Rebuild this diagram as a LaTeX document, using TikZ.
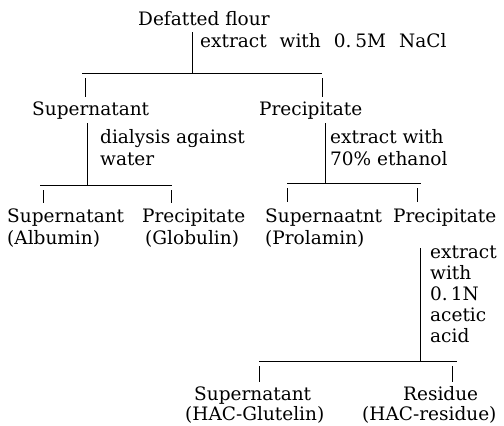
\documentclass[tikz,border=0pt]{standalone}
\usepackage{fontspec}
\setmainfont{DejaVu Serif}
\begin{document}
\begin{tikzpicture}[x=1pt,y=-1pt,
  font=\fontsize{18.5}{21}\selectfont,
  txt/.style={anchor=base west, inner sep=0pt},
  ln/.style={line width=0.8pt, black}]
\useasboundingbox (0,0) rectangle (504,426);
% texts
\node[txt] (df)   at (138,25)  {Defatted flour};
\node[txt] (s1)   at (200,47)  {extract\hspace{13pt}with\hspace{13pt}0.\hspace{4pt}5M\hspace{13pt}NaCl};
\node[txt] (sup1) at (32,115)  {Supernatant};
\node[txt] (pre1) at (259,115) {Precipitate};
\node[txt] (s2a)  at (100,143) {dialysis against};
\node[txt] (s2b)  at (100,165) {water};
\node[txt] (s3a)  at (330,143) {extract with};
\node[txt] (s3b)  at (330,165) {70\% ethanol};
\node[txt] (alb1) at (7,222)   {Supernatant};
\node[txt] (alb2) at (7,244)   {(Albumin)};
\node[txt] (glo1) at (142,222) {Precipitate};
\node[txt] (glo2) at (145,244) {(Globulin)};
\node[txt] (pro1) at (265,222) {Supernaatnt};
\node[txt] (pro2) at (265,244) {(Prolamin)};
\node[txt] (pre2) at (393,222) {Precipitate};
\node[txt] (s4a)  at (430,258) {extract};
\node[txt] (s4b)  at (430,279) {with};
\node[txt] (s4c)  at (430,300) {0.\,1N};
\node[txt] (s4d)  at (430,321) {acetic};
\node[txt] (s4e)  at (430,342) {acid};
\node[txt] (glu1) at (194,400) {Supernatant};
\node[txt] (glu2) at (185,420) {(HAC-Glutelin)};
\node[txt] (res1) at (403,400) {Residue};
\node[txt] (res2) at (362,420) {(HAC-residue)};
% junction coordinates
\coordinate (a0) at (192,32);  \coordinate (a1) at (192,73);
\coordinate (aL) at (82,73);   \coordinate (aR) at (322,73);
\coordinate (aLt) at (85,78);  \coordinate (aLb) at (85,97);
\coordinate (aRt) at (322,78); \coordinate (aRb) at (322,97);
\coordinate (b0) at (87,123);  \coordinate (b1) at (87,185);
\coordinate (bL) at (40,185);  \coordinate (bR) at (172,185);
\coordinate (bLt) at (43,190); \coordinate (bLb) at (43,203);
\coordinate (bRt) at (171,190);\coordinate (bRb) at (171,203);
\coordinate (c0) at (325,123); \coordinate (c1) at (325,183);
\coordinate (cL) at (287,183); \coordinate (cR) at (421,183);
\coordinate (cLt) at (287,188);\coordinate (cLb) at (287,202);
\coordinate (cRt) at (417,188);\coordinate (cRb) at (417,202);
\coordinate (d0) at (420,248); \coordinate (d1) at (420,361);
\coordinate (dL) at (259,361); \coordinate (dR) at (457,361);
\coordinate (dLt) at (259,366);\coordinate (dLb) at (259,382);
\coordinate (dRt) at (452,366);\coordinate (dRb) at (452,382);
% connectors
\draw[ln] (a0) -- (a1); \draw[ln] (aL) -- (aR);
\draw[ln] (aLt) -- (aLb); \draw[ln] (aRt) -- (aRb);
\draw[ln] (b0) -- (b1); \draw[ln] (bL) -- (bR);
\draw[ln] (bLt) -- (bLb); \draw[ln] (bRt) -- (bRb);
\draw[ln] (c0) -- (c1); \draw[ln] (cL) -- (cR);
\draw[ln] (cLt) -- (cLb); \draw[ln] (cRt) -- (cRb);
\draw[ln] (d0) -- (d1); \draw[ln] (dL) -- (dR);
\draw[ln] (dLt) -- (dLb); \draw[ln] (dRt) -- (dRb);
\end{tikzpicture}
\end{document}
